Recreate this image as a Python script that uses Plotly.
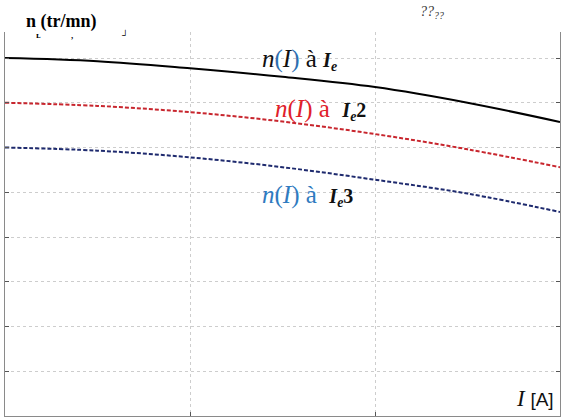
import plotly.graph_objects as go

current_I = [0, 0.5, 1, 1.5, 2, 2.5, 3]
n_Ie = [8.0, 7.93, 7.77, 7.58, 7.35, 7.0, 6.57]
n_Ie2 = [7.0, 6.93, 6.79, 6.58, 6.30, 5.96, 5.56]
n_Ie3 = [6.0, 5.93, 5.78, 5.56, 5.28, 4.97, 4.56]

W, H = 564, 417
ml, mr, mt, mb = 5, 4, 32, 1
y_top = (H - mt - mb) / 44.75

fig = go.Figure()
fig.add_trace(go.Scatter(x=current_I, y=n_Ie, mode="lines", line=dict(color="#000000", width=2, shape="spline")))
fig.add_trace(go.Scatter(x=current_I, y=n_Ie2, mode="lines", line=dict(color="#c8262e", width=2, dash="4px,2px", shape="spline")))
fig.add_trace(go.Scatter(x=current_I, y=n_Ie3, mode="lines", line=dict(color="#1e2a6e", width=2, dash="4px,2px", shape="spline")))

grid = dict(showgrid=True, gridcolor="#cdcdcd", griddash="dot", gridwidth=1,
            showline=True, linecolor="#8a8a8a", linewidth=1,
            ticks="inside", ticklen=4, tickcolor="#555555", showticklabels=False,
            zeroline=False)
fig.update_xaxes(range=[0, 3], dtick=1, tick0=0, **grid)
fig.update_yaxes(range=[0, y_top], dtick=1, tick0=0, mirror="ticks", **grid)

serif = "Liberation Serif"
ann = []
ann.append(dict(x=24, y=H - 21, text="<b>n (tr/mn)</b>", font=dict(family=serif, size=18, color="#000"), xanchor="left"))
ann.append(dict(x=34, y=H - 35, text="<b>ʟ</b>", font=dict(family=serif, size=9, color="#000"), xanchor="left"))
ann.append(dict(x=69, y=H - 35, text="<b>,</b>", font=dict(family=serif, size=9, color="#000"), xanchor="left"))
ann.append(dict(x=120, y=H - 34, text="<b>┘</b>", font=dict(family=serif, size=9, color="#000"), xanchor="left"))
ann.append(dict(x=418, y=H - 12, text="<i>??</i><sub><i>??</i></sub>", font=dict(family=serif, size=14, color="#333"), xanchor="left"))
ie = "font-size:20px"
ann.append(dict(x=260, y=H - 60,
                text="<i>n</i><span style='color:#2e6fb0'>(</span><i>I</i><span style='color:#2e6fb0'>)</span> à <span style='" + ie + "'><b><i>I<sub>e</sub></i></b></span>",
                font=dict(family=serif, size=25, color="#111"), xanchor="left"))
ann.append(dict(x=273, y=H - 109,
                text="<span style='color:#e0202a'><i>n</i>(<i>I</i>) à</span>&nbsp; <span style='" + ie + "'><b><i>I<sub>e</sub></i>2</b></span>",
                font=dict(family=serif, size=25, color="#111"), xanchor="left"))
ann.append(dict(x=260, y=H - 195,
                text="<span style='color:#2f7bc0'><i>n</i>(<i>I</i>) à</span>&nbsp; <span style='" + ie + "'><b><i>I<sub>e</sub></i>3</b></span>",
                font=dict(family=serif, size=25, color="#111"), xanchor="left"))
ann.append(dict(x=514, y=H - 398,
                text="<i>I</i> <span style='font-family:Liberation Sans;font-size:19px'>[A]</span>",
                font=dict(family=serif, size=23, color="#111"), xanchor="left"))
for a in ann:
    a.update(xref="paper", yref="paper", showarrow=False, yanchor="middle")
    a["x"] = (a["x"] - ml) / (W - ml - mr)
    a["y"] = (a["y"] - mb) / (H - mt - mb)
fig.update_layout(annotations=ann)

fig.update_layout(width=W, height=H, margin=dict(l=ml, r=mr, t=mt, b=mb),
                  paper_bgcolor="white", plot_bgcolor="white", showlegend=False)
fig.write_html("out.html", config={"displayModeBar": False},
               post_script="document.body.style.margin='0px';document.body.style.overflow='hidden';")
